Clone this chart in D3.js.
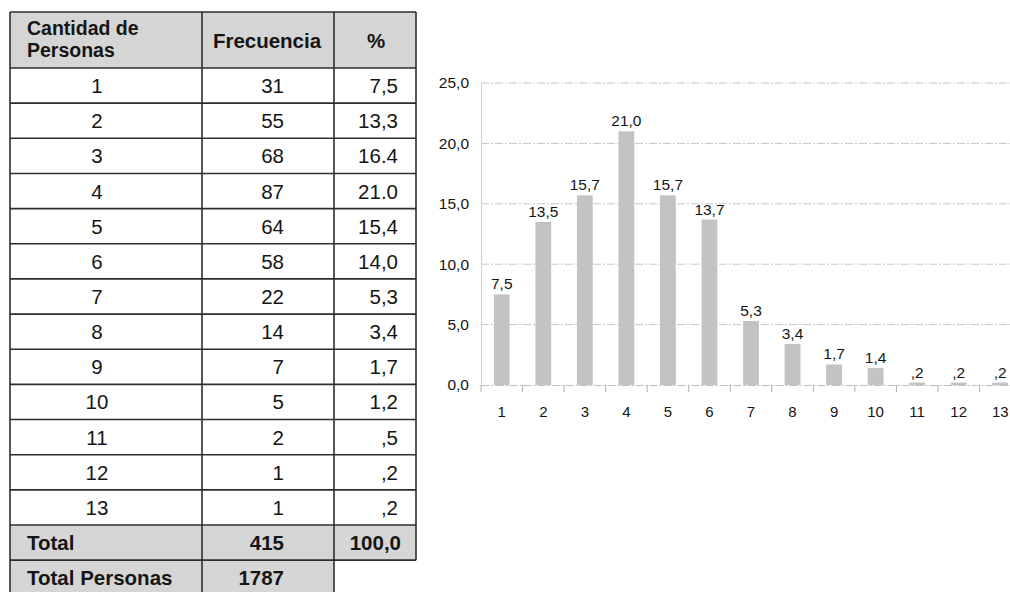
<!DOCTYPE html>
<html>
<head>
<meta charset="utf-8">
<script src="https://cdn.jsdelivr.net/npm/d3@7"></script>
<style>
  html, body { margin: 0; padding: 0; background: #fff; }
  svg { display: block; font-family: "Liberation Sans", Arial, sans-serif; }
</style>
</head>
<body>
<svg id="c" width="1010" height="592"></svg>
<script>
// ---- Data (table) ----
const cantidades = ["1","2","3","4","5","6","7","8","9","10","11","12","13"];
const frecuencias = [31, 55, 68, 87, 64, 58, 22, 14, 7, 5, 2, 1, 1];
const porcentajesTabla = ["7,5","13,3","16.4","21.0","15,4","14,0","5,3","3,4","1,7","1,2",",5",",2",",2"];
const headerLabels = [["Cantidad de", "Personas"], ["Frecuencia"], ["%"]];
const totalRow = ["Total", "415", "100,0"];
const totalPersonasRow = ["Total Personas", "1787"];

// ---- Data (chart) ----
const chartCategories = ["1","2","3","4","5","6","7","8","9","10","11","12","13"];
const chartValues = [7.5, 13.5, 15.7, 21.0, 15.7, 13.7, 5.3, 3.4, 1.7, 1.4, 0.2, 0.2, 0.2];
const yTickValues = [0, 5, 10, 15, 20, 25];

const svg = d3.select("#c");
const locale = d3.formatLocale({decimal: ",", thousands: ".", grouping: [3], currency: ["", ""]});
const f1 = locale.format(".1f");
const fmt = v => { const s = f1(v); return s.startsWith("0,") ? s.slice(1) : s; };

// ================= TABLE =================
const colX = [10, 202, 334, 416];
const headerTop = 12, headerBottom = 68, rowsBottom = 525, rowH = 35.15;
const rowScale = d3.scaleBand().domain(cantidades).range([headerBottom, rowsBottom]);
const tbl = svg.append("g");
const border = "#2e2e2e";
const gray = "#d5d5d5";
const txt = "#151515";
const hfs = 20.5, dfs = 20.5, h1fs = 19.5;

tbl.append("rect").attr("x", colX[0]).attr("y", headerTop)
  .attr("width", colX[3] - colX[0]).attr("height", headerBottom - headerTop).attr("fill", gray);
tbl.append("rect").attr("x", colX[0]).attr("y", rowsBottom)
  .attr("width", colX[3] - colX[0]).attr("height", rowH).attr("fill", gray);
tbl.append("rect").attr("x", colX[0]).attr("y", rowsBottom + rowH)
  .attr("width", colX[2] - colX[0]).attr("height", rowH).attr("fill", gray);

// header text
tbl.append("text").attr("x", 27).attr("y", 35).attr("font-size", h1fs).attr("font-weight", "bold")
  .attr("fill", txt).text(headerLabels[0][0]);
tbl.append("text").attr("x", 27).attr("y", 57).attr("font-size", h1fs).attr("font-weight", "bold")
  .attr("fill", txt).text(headerLabels[0][1]);
tbl.append("text").attr("x", (colX[1] + colX[2]) / 2 - 1).attr("y", 48).attr("text-anchor", "middle")
  .attr("font-size", hfs).attr("font-weight", "bold").attr("fill", txt).text(headerLabels[1][0]);
tbl.append("text").attr("x", (colX[2] + colX[3]) / 2 + 1).attr("y", 48).attr("text-anchor", "middle")
  .attr("font-size", hfs).attr("font-weight", "bold").attr("fill", txt).text(headerLabels[2][0]);

// data rows
const rows = tbl.selectAll("g.row").data(cantidades.map((c, i) => ({c, f: frecuencias[i], p: porcentajesTabla[i]})))
  .join("g").attr("class", "row")
  .attr("transform", d => `translate(0,${rowScale(d.c) + rowScale.bandwidth() / 2 + 7.5})`);
rows.append("text").attr("x", 97).attr("text-anchor", "middle").attr("font-size", dfs).attr("fill", txt).text(d => d.c);
rows.append("text").attr("x", 284).attr("text-anchor", "end").attr("font-size", dfs).attr("fill", txt).text(d => d.f);
rows.append("text").attr("x", 398).attr("text-anchor", "end").attr("font-size", dfs).attr("fill", txt).text(d => d.p);

// totals text
const ty = rowsBottom + rowH / 2 + 7.5;
tbl.append("text").attr("x", 27).attr("y", ty).attr("font-size", dfs).attr("font-weight", "bold").attr("fill", txt).text(totalRow[0]);
tbl.append("text").attr("x", 284).attr("y", ty).attr("text-anchor", "end").attr("font-size", dfs).attr("font-weight", "bold").attr("fill", txt).text(totalRow[1]);
tbl.append("text").attr("x", 401).attr("y", ty).attr("text-anchor", "end").attr("font-size", dfs).attr("font-weight", "bold").attr("fill", txt).text(totalRow[2]);
const ty2 = ty + rowH;
tbl.append("text").attr("x", 27).attr("y", ty2).attr("font-size", dfs).attr("font-weight", "bold").attr("fill", txt).text(totalPersonasRow[0]);
tbl.append("text").attr("x", 284).attr("y", ty2).attr("text-anchor", "end").attr("font-size", dfs).attr("font-weight", "bold").attr("fill", txt).text(totalPersonasRow[1]);

// borders
const hLines = [headerTop, headerBottom, ...cantidades.map(c => rowScale(c) + rowScale.bandwidth()), rowsBottom + rowH];
tbl.selectAll("line.h").data(hLines).join("line").attr("class", "h")
  .attr("x1", colX[0]).attr("x2", colX[3]).attr("y1", d => d).attr("y2", d => d)
  .attr("stroke", border).attr("stroke-width", 1.6);
tbl.append("line").attr("x1", colX[0]).attr("x2", colX[2]).attr("y1", rowsBottom + 2 * rowH).attr("y2", rowsBottom + 2 * rowH)
  .attr("stroke", border).attr("stroke-width", 1.6);
tbl.selectAll("line.v").data(colX).join("line").attr("class", "v")
  .attr("x1", d => d).attr("x2", d => d).attr("y1", headerTop)
  .attr("y2", (d, i) => i === 3 ? rowsBottom + rowH : rowsBottom + 2 * rowH)
  .attr("stroke", border).attr("stroke-width", 1.6);

// ================= CHART =================
const x = d3.scaleBand().domain(chartCategories).range([481, 1021]).paddingInner(0.62).paddingOuter(0.31);
const y = d3.scaleLinear().domain([0, 25]).range([385, 83]);
const ch = svg.append("g");

// gridlines
ch.selectAll("line.grid").data(yTickValues.filter(v => v > 0)).join("line").attr("class", "grid")
  .attr("x1", 481).attr("x2", 1021).attr("y1", d => y(d)).attr("y2", d => y(d))
  .attr("stroke", "#c8c8c8").attr("stroke-width", 1).attr("stroke-dasharray", "8,2,2,2");

// y axis
const yAxis = ch.append("g").attr("transform", "translate(481,0)")
  .call(d3.axisLeft(y).tickValues(yTickValues).tickFormat(f1).tickSize(0).tickPadding(12));
yAxis.select(".domain").attr("stroke", "#d0d0d0");
yAxis.selectAll("text").attr("font-size", 15.5).attr("fill", txt)
  .attr("font-family", "Liberation Sans, Arial, sans-serif");

// x axis
const xAxis = ch.append("g").attr("transform", "translate(0,385)")
  .call(d3.axisBottom(x).tickSize(0).tickPadding(21));
xAxis.select(".domain").attr("stroke", "#bdbdbd").attr("stroke-dasharray", "8,2,2,2");
xAxis.selectAll("text").attr("font-size", 15).attr("fill", txt)
  .attr("font-family", "Liberation Sans, Arial, sans-serif");
const step = x.step();
ch.selectAll("line.xt").data(d3.range(chartCategories.length + 1)).join("line").attr("class", "xt")
  .attr("x1", i => 481 + i * step).attr("x2", i => 481 + i * step)
  .attr("y1", 385).attr("y2", 392).attr("stroke", "#b0b0b0");

// bars
ch.selectAll("rect.bar").data(chartCategories.map((c, i) => ({c, v: chartValues[i]}))).join("rect").attr("class", "bar")
  .attr("x", d => x(d.c)).attr("width", x.bandwidth())
  .attr("y", d => y(d.v)).attr("height", d => Math.max(y(0) - y(d.v), 2.5))
  .attr("fill", "#c3c3c3");

// value labels
ch.selectAll("text.lbl").data(chartCategories.map((c, i) => ({c, v: chartValues[i]}))).join("text").attr("class", "lbl")
  .attr("x", d => x(d.c) + x.bandwidth() / 2).attr("y", d => Math.min(y(d.v), y(0) - 2.5) - 5)
  .attr("text-anchor", "middle").attr("font-size", 15.5).attr("fill", txt).text(d => fmt(d.v));
</script>
</body>
</html>
